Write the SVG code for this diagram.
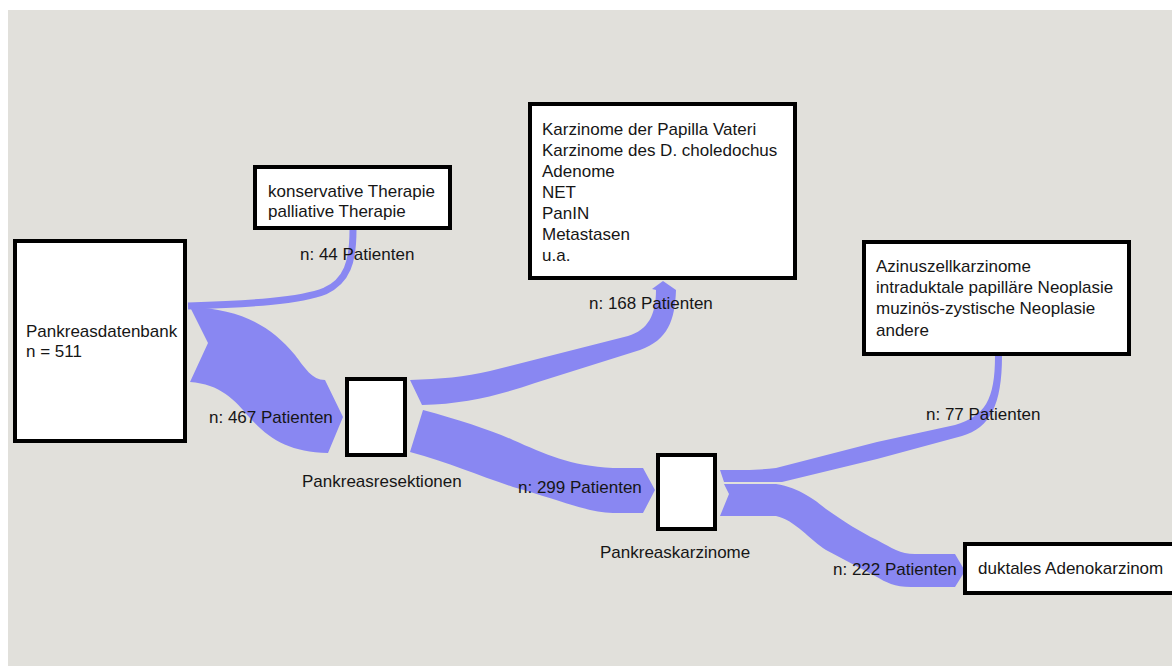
<svg xmlns="http://www.w3.org/2000/svg" width="1172" height="666" viewBox="0 0 1172 666">
<style>
.box{fill:#ffffff;stroke:#000000;stroke-width:4}
.flow{fill:#8987f2;stroke:none}
.fline{fill:none;stroke:#8987f2}
text{font-family:"Liberation Sans",Arial,sans-serif;font-size:17px;fill:#161616}
</style>
<rect x="0" y="0" width="1172" height="666" fill="#ffffff"/>
<rect x="8" y="10" width="1164" height="656" fill="#e1e0db"/>
<g id="connectors">
<path class="fline" stroke-width="7" d="M188,306 C250,304 300,301 325,291 C347,281 353,262 353,230"/>
<path class="flow" d="M190,307 C240,309 270,325 295,355 C305,368 312,380 325,380 L343,417 L328,453 C290,452 270,440 250,418 C235,400 220,384 190,382 L208,343 Z"/>
<path class="flow" d="M410,380 C440,379 465,377 490,371 L628,336 C648,330 656,315 656,290 L652,289 L663,281 L676,290 C675,320 668,340 640,350 L535,383 C500,395 465,404 422,405 Z"/>
<path class="flow" d="M423,410 C460,420 490,430 513,440 C545,454 570,466 613,468 L643,468 L655,490 L643,513 L613,513 C585,512 560,500 513,487 C480,476 450,463 410,452 Z"/>
<path class="flow" d="M720,470 C745,470 760,470 776,468 L877,442 L955,425 C985,416 995,400 995,356 L1002,356 C1002,405 990,428 962,436 L877,459 L782,482 L724,482 Z"/>
<path class="flow" d="M724,484 L776,484 C800,488 815,500 826,509 C845,522 860,532 877,540 C892,548 900,554 915,554 L955,554 L965,571 L955,587 L911,587 C895,587 885,582 877,577 L826,550 C810,540 795,520 776,516 L720,516 L729,494 Z"/>
</g>
<g id="node-datenbank">
<rect class="box" x="15" y="241" width="170" height="200"/>
<text x="26" y="337">Pankreasdatenbank</text>
<text x="26" y="357">n = 511</text>
</g>
<g id="node-therapie">
<rect class="box" x="255" y="167" width="195" height="61"/>
<text x="268" y="197">konservative Therapie</text>
<text x="268" y="217">palliative Therapie</text>
</g>
<g id="node-andere-tumoren">
<rect class="box" x="530" y="104" width="265" height="174"/>
<text x="542" y="135">Karzinome der Papilla Vateri</text>
<text x="542" y="156">Karzinome des D. choledochus</text>
<text x="542" y="177">Adenome</text>
<text x="542" y="198">NET</text>
<text x="542" y="219">PanIN</text>
<text x="542" y="240">Metastasen</text>
<text x="542" y="261">u.a.</text>
</g>
<g id="node-seltene-karzinome">
<rect class="box" x="864" y="242" width="265" height="112"/>
<text x="876" y="272">Azinuszellkarzinome</text>
<text x="876" y="293">intraduktale papilläre Neoplasie</text>
<text x="876" y="314">muzinös-zystische Neoplasie</text>
<text x="876" y="336">andere</text>
</g>
<g id="node-resektionen">
<rect class="box" x="347" y="379" width="58" height="76"/>
<text x="302" y="487">Pankreasresektionen</text>
</g>
<g id="node-karzinome">
<rect class="box" x="658" y="455" width="57" height="74"/>
<text x="600" y="558">Pankreaskarzinome</text>
</g>
<g id="node-duktal">
<rect class="box" x="965" y="544" width="210" height="49"/>
<text x="978" y="574">duktales Adenokarzinom</text>
</g>
<g id="labels">
<text x="300" y="260">n: 44 Patienten</text>
<text x="209" y="423">n: 467 Patienten</text>
<text x="589" y="309">n: 168 Patienten</text>
<text x="518" y="493">n: 299 Patienten</text>
<text x="926" y="420">n: 77 Patienten</text>
<text x="833" y="575">n: 222 Patienten</text>
</g>
</svg>
